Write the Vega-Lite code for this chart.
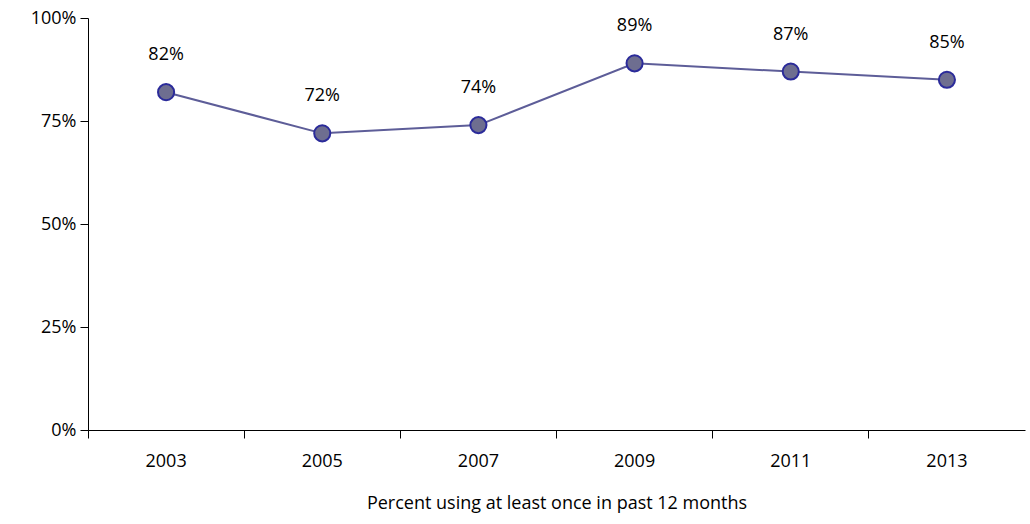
{
  "$schema": "https://vega.github.io/schema/vega-lite/v6.json",
  "width": 937,
  "height": 412,
  "autosize": "none",
  "padding": {"left": 88, "top": 18, "right": 5, "bottom": 94},
  "background": "white",
  "config": {
    "view": {"stroke": null},
    "font": "Open Sans",
    "axis": {"domainColor": "black", "tickColor": "black", "labelColor": "black", "titleColor": "black", "grid": false, "labelFont": "Open Sans", "titleFont": "Open Sans"}
  },
  "data": {"values": [
    {"year": "2003", "pct": 0.82},
    {"year": "2005", "pct": 0.72},
    {"year": "2007", "pct": 0.74},
    {"year": "2009", "pct": 0.89},
    {"year": "2011", "pct": 0.87},
    {"year": "2013", "pct": 0.85}
  ]},
  "encoding": {
    "x": {"field": "year", "type": "ordinal", "sort": null, "bandPosition": 0.5, "scale": {"type": "band", "paddingInner": 0, "paddingOuter": 0},
      "axis": {"title": "Percent using at least once in past 12 months", "labelAngle": 0, "labelFontSize": 18, "titleFontSize": 18, "titleFontWeight": "normal", "labelPadding": 14, "titlePadding": 24, "bandPosition": 0, "tickSize": 8}},
    "y": {"field": "pct", "type": "quantitative", "scale": {"domain": [0, 1]},
      "axis": {"title": null, "format": ".0%", "values": [0, 0.25, 0.5, 0.75, 1], "labelFontSize": 18, "tickSize": 8, "labelPadding": 4}}
  },
  "layer": [
    {"mark": {"type": "line", "color": "#5d5d98", "strokeWidth": 2}},
    {"mark": {"type": "point", "filled": true, "size": 260, "fill": "#6e6e90", "stroke": "#2b2b9a", "strokeWidth": 2, "opacity": 1}},
    {"mark": {"type": "text", "dy": -37, "fontSize": 18, "color": "black"},
      "encoding": {"text": {"field": "pct", "type": "quantitative", "format": ".0%"}}}
  ]
}
